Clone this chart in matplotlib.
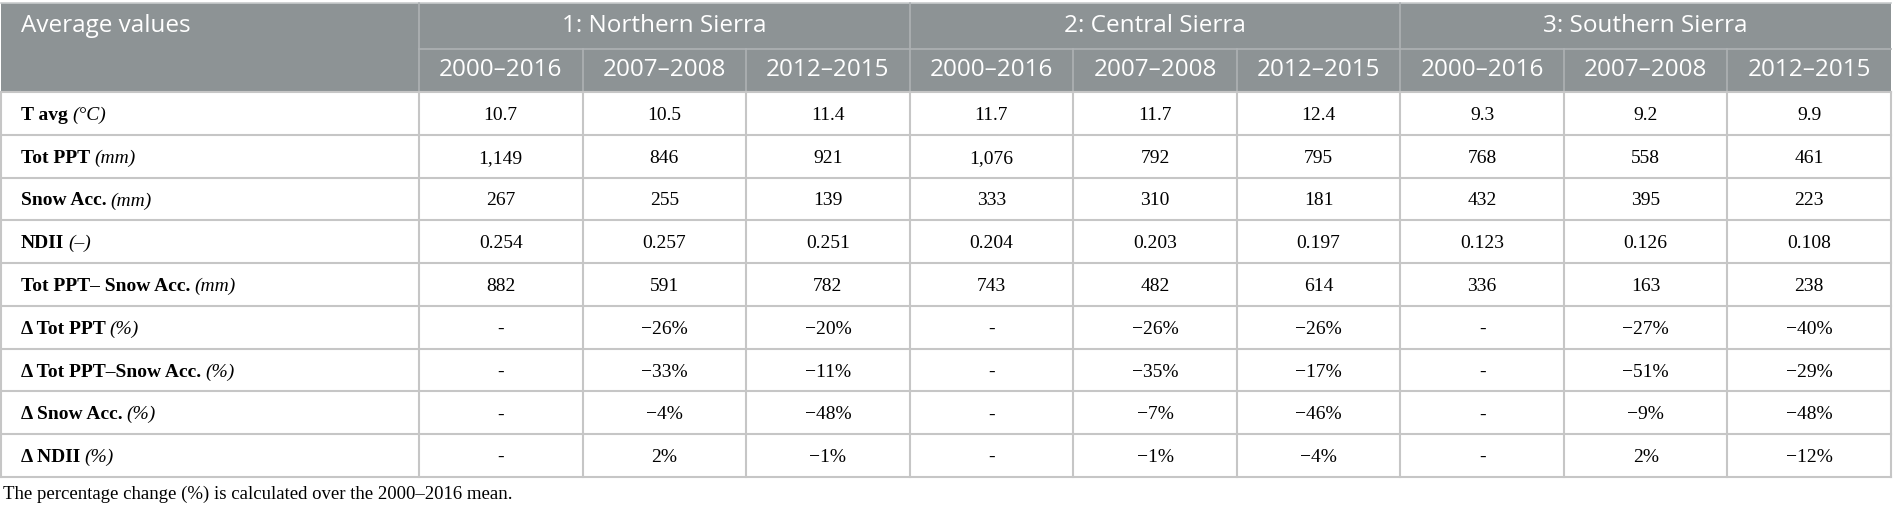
import matplotlib.pyplot as plt

# table content
regions = ['1: Northern Sierra', '2: Central Sierra', '3: Southern Sierra']
periods = ['2000\u20132016', '2007\u20132008', '2012\u20132015']

row_names = ['T avg', 'Tot PPT', 'Snow Acc.', 'NDII', 'Tot PPT\u2013 Snow Acc.',
             '\u0394 Tot PPT', '\u0394 Tot PPT\u2013Snow Acc.', '\u0394 Snow Acc.', '\u0394 NDII']
row_units = ['(\u00b0C)', '(mm)', '(mm)', '(\u2013)', '(mm)', '(%)', '(%)', '(%)', '(%)']

t_avg = [10.7, 10.5, 11.4, 11.7, 11.7, 12.4, 9.3, 9.2, 9.9]
tot_ppt = [1149, 846, 921, 1076, 792, 795, 768, 558, 461]
snow_acc = [267, 255, 139, 333, 310, 181, 432, 395, 223]
ndii = [0.254, 0.257, 0.251, 0.204, 0.203, 0.197, 0.123, 0.126, 0.108]
ppt_minus_snow = [882, 591, 782, 743, 482, 614, 336, 163, 238]
d_tot_ppt = [None, -26, -20, None, -26, -26, None, -27, -40]
d_ppt_minus_snow = [None, -33, -11, None, -35, -17, None, -51, -29]
d_snow_acc = [None, -4, -48, None, -7, -46, None, -9, -48]
d_ndii = [None, 2, -1, None, -1, -4, None, 2, -12]

footnote = 'The percentage change (%) is calculated over the 2000\u20132016 mean.'


def fmt_pct(v):
    if v is None:
        return '-'
    return f'{v}%'.replace('-', '\u2212')


cells = [
    [f'{v:.1f}' for v in t_avg],
    [f'{v:,}' for v in tot_ppt],
    [f'{v}' for v in snow_acc],
    [f'{v:.3f}' for v in ndii],
    [f'{v}' for v in ppt_minus_snow],
    [fmt_pct(v) for v in d_tot_ppt],
    [fmt_pct(v) for v in d_ppt_minus_snow],
    [fmt_pct(v) for v in d_snow_acc],
    [fmt_pct(v) for v in d_ndii],
]

W, H = 1903, 508
fig = plt.figure(figsize=(W / 100, H / 100), dpi=100)
ax = fig.add_axes([0, 0, 1, 1])
ax.set_xlim(0, W)
ax.set_ylim(H, 0)
ax.axis('off')

head_bg = '#8d9395'
head_line = '#aeb2b4'
grid = '#c6c6c6'
sans = 'Open Sans'
serif = 'Liberation Serif'

x0, x1, xr = 1, 419, 1891
y_top, y_mid, y_head, y_bot = 3, 49, 92, 477
n_rows = len(cells)
row_h = (y_bot - y_head) / n_rows
col_w = (xr - x1) / 9
col_x = [x1 + i * col_w for i in range(10)]

# header block
ax.add_patch(plt.Rectangle((x0, y_top), xr - x0, y_head - y_top,
                           facecolor=head_bg, edgecolor='none'))
ax.plot([x0, xr], [y_top, y_top], color='#c9cccd', lw=1.2)
ax.plot([x1, xr], [y_mid, y_mid], color=head_line, lw=1.2)
for i in range(9):
    top = y_top if i % 3 == 0 else y_mid
    ax.plot([col_x[i], col_x[i]], [top, y_head], color=head_line, lw=1.2)

hfs = 17.5
ax.text(x0 + 20, (y_top + y_mid) / 2, 'Average values', family=sans,
        fontsize=hfs, color='white', va='center', ha='left')
for k, reg in enumerate(regions):
    cx = (col_x[3 * k] + col_x[3 * k + 3]) / 2
    ax.text(cx, (y_top + y_mid) / 2, reg, family=sans, fontsize=hfs,
            color='white', va='center', ha='center')
    for j, per in enumerate(periods):
        c = 3 * k + j
        ax.text((col_x[c] + col_x[c + 1]) / 2, (y_mid + y_head) / 2, per,
                family=sans, fontsize=hfs, color='white', va='center', ha='center')

# body grid
for r in range(n_rows + 1):
    y = y_head + r * row_h
    ax.plot([x0, xr], [y, y], color=grid, lw=1.5)
ax.plot([x0, x0], [y_head, y_bot], color=grid, lw=1.5)
for xc in col_x:
    ax.plot([xc, xc], [y_head, y_bot], color=grid, lw=1.5)

fig.canvas.draw()
renderer = fig.canvas.get_renderer()

bfs = 14
for r in range(n_rows):
    yb = y_head + (r + 0.5) * row_h + 6.5
    t = ax.text(x0 + 20, yb, row_names[r], family=serif, fontweight='bold',
                fontsize=bfs, va='baseline', ha='left')
    w = t.get_window_extent(renderer).width
    ax.text(x0 + 20 + w + 4, yb, row_units[r], family=serif, style='italic',
            fontsize=bfs, va='baseline', ha='left')
    for c in range(9):
        ax.text((col_x[c] + col_x[c + 1]) / 2, yb, cells[r][c], family=serif,
                fontsize=bfs, va='baseline', ha='center')

ax.text(3, 499, footnote, family=serif, fontsize=13.5, va='baseline', ha='left')

fig.savefig('out.png', dpi=100)
